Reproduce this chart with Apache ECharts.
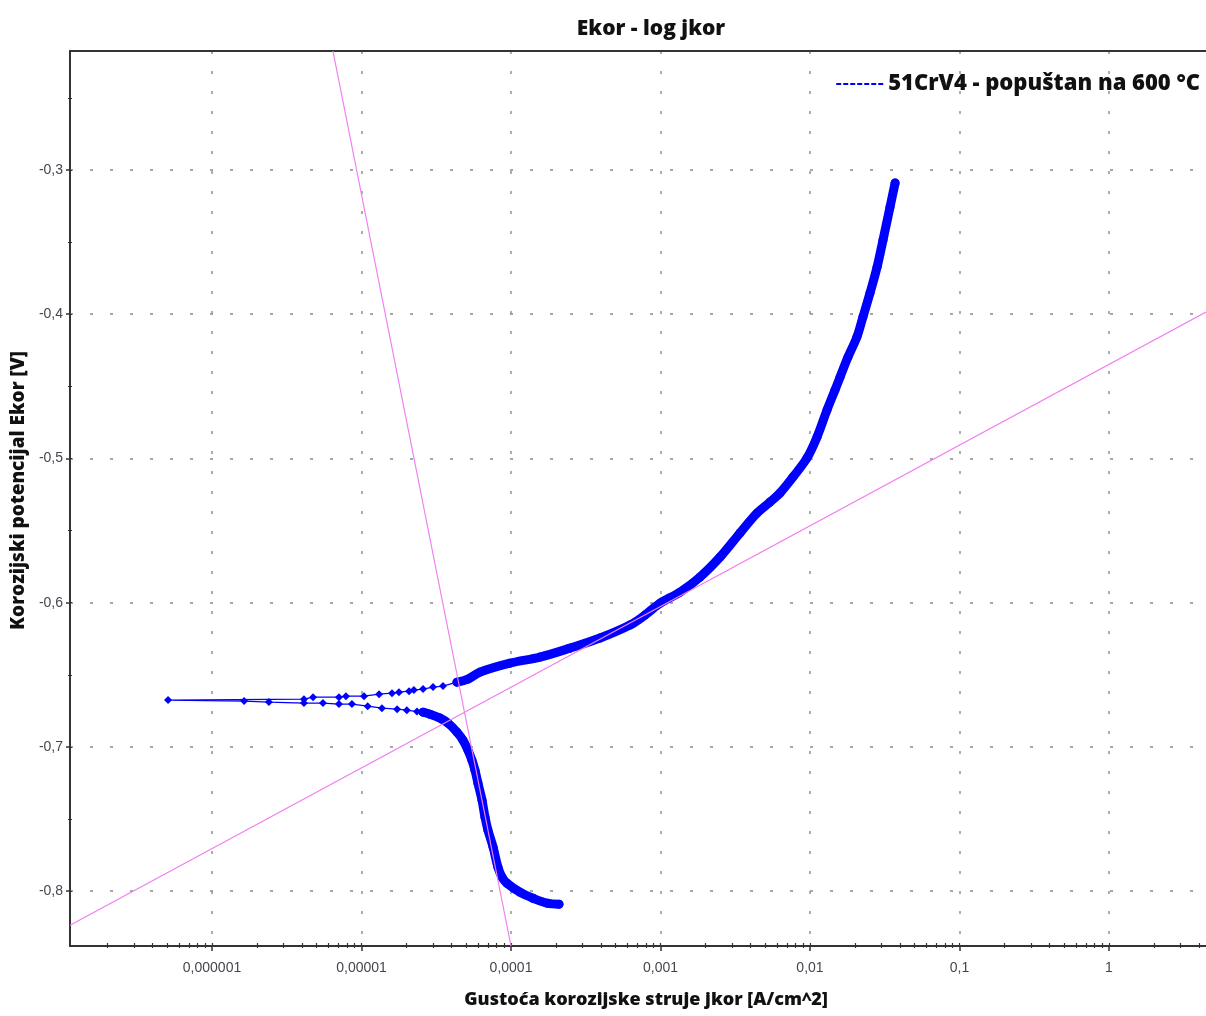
<!DOCTYPE html>
<html><head><meta charset="utf-8">
<script src="https://cdn.jsdelivr.net/npm/echarts@6/dist/echarts.min.js"></script>
<style>html,body{margin:0;padding:0;background:#fff}#c{width:1206px;height:1016px}</style>
</head><body><div id="c"></div>
<script>
// ---- data (current density A/cm^2, potential V) ----
const cathodicI = [2.094e-4,1.742e-4,1.403e-4,1.148e-4,9.40e-5,8.71e-5,8.18e-5,7.59e-5,7.01e-5,6.70e-5,6.40e-5,6.01e-5,5.74e-5,5.48e-5,5.15e-5,4.77e-5,4.35e-5,3.79e-5,3.35e-5,2.87e-5,2.58e-5];
const cathodicE = [-0.8090,-0.8083,-0.8049,-0.8007,-0.7945,-0.7903,-0.7834,-0.7695,-0.7577,-0.7487,-0.7369,-0.7251,-0.7161,-0.7092,-0.7022,-0.6953,-0.6897,-0.6835,-0.6800,-0.6773,-0.6759];
const ecorrI = [2.58e-5,2.35e-5,2.01e-5,1.73e-5,1.37e-5,1.10e-5,8.63e-6,7.06e-6,5.52e-6,4.12e-6,2.40e-6,1.64e-6,5.08e-7,4.12e-6,4.74e-6,7.06e-6,7.87e-6,1.04e-5,1.31e-5,1.60e-5,1.78e-5,2.08e-5,2.24e-5,2.58e-5,3.01e-5,3.51e-5,4.35e-5];
const ecorrE = [-0.6759,-0.6755,-0.6745,-0.6738,-0.6731,-0.6717,-0.6703,-0.6703,-0.6696,-0.6696,-0.6689,-0.6682,-0.6675,-0.6669,-0.6655,-0.6655,-0.6648,-0.6648,-0.6634,-0.6627,-0.6620,-0.6613,-0.6606,-0.6599,-0.6585,-0.6578,-0.6551];
const anodicI = [4.35e-5,5.15e-5,6.21e-5,9.84e-5,1.563e-4,2.48e-4,3.94e-4,6.25e-4,7.87e-4,9.93e-4,1.349e-3,1.837e-3,2.50e-3,3.40e-3,4.42e-3,5.40e-3,6.29e-3,7.69e-3,9.55e-3,1.114e-2,1.300e-2,1.469e-2,1.589e-2,1.795e-2,2.06e-2,2.26e-2,2.52e-2,2.81e-2,3.08e-2,3.43e-2,3.71e-2];
const anodicE = [-0.6551,-0.6530,-0.6481,-0.6419,-0.6377,-0.6315,-0.6245,-0.6155,-0.6086,-0.6003,-0.5927,-0.5822,-0.5684,-0.5517,-0.5379,-0.5302,-0.5240,-0.5129,-0.4997,-0.4852,-0.4664,-0.4526,-0.4436,-0.4297,-0.4158,-0.4019,-0.3853,-0.3673,-0.3485,-0.3257,-0.3090];
// Tafel fit lines (end points)
const tafelCathI = [1.0e-4, 6.44e-6];
const tafelCathE = [-0.838, -0.2175];
const tafelAnodI = [1.122e-7, 4.457];
const tafelAnodE = [-0.8236, -0.3985];
// axes
const xMin = 1.122e-7, xMax = 4.457;
const yMin = -0.838, yMax = -0.2175;
const xMajorTicks = [1e-6,1e-5,1e-4,1e-3,1e-2,1e-1,1];
const yMajorTicks = [-0.8,-0.7,-0.6,-0.5,-0.4,-0.3];
const yMinorTicks = [-0.75,-0.65,-0.55,-0.45,-0.35,-0.25];
const seriesName = '51CrV4 - popuštan na 600 °C';

const xMinorTicks = [];
[1e-7,1e-6,1e-5,1e-4,1e-3,1e-2,1e-1,1].forEach(d=>{for(let k=2;k<=9;k++){const v=d*k; if(v>xMin&&v<xMax) xMinorTicks.push(v);}});

const zip = (a,b)=>a.map((v,i)=>[v,b[i]]);
function fmtX(v){const l=Math.log10(v);const e=Math.round(l);if(Math.abs(l-e)>1e-6)return '';return e>=0?String(Math.round(v)):v.toFixed(-e).replace('.',',');}
function fmtY(v){const r=Math.round(v*10)/10;if(Math.abs(r-v)>1e-6)return '';return r.toFixed(1).replace('.',',');}

const labelStyle = {fontFamily:'Liberation Sans, Arial, sans-serif',fontSize:14,color:'#45454f'};
const hGrid = {show:true,lineStyle:{color:'#8c8c8c',width:1.5,type:[3,17]}};
const vGrid = {show:true,lineStyle:{color:'#7f9f8a',width:1.5,type:[3,17]}};
const axisLine = {show:true,lineStyle:{color:'#333',width:2}};
const boldFont = {fontFamily:'Open Sans',fontWeight:800,color:'#111'};

// dashed legend icon
let dashPath = 'path://';
for(let k=0;k<7;k++){dashPath += 'M'+(k*7)+',0h5v2h-5z';}

const chart = echarts.init(document.getElementById('c'),null,{renderer:'canvas'});
chart.setOption({
  animation:false,
  backgroundColor:'#fff',
  title:{text:'Ekor - log jkor',left:646,textAlign:'center',top:14,
    textStyle:{...boldFont,fontSize:21}},
  legend:{data:[{name:seriesName,icon:dashPath}],right:1,top:68,itemWidth:47,itemHeight:3,itemGap:6,
    textStyle:{...boldFont,fontSize:22}},
  grid:{left:70,right:0,top:51,bottom:70},
  xAxis:[
    {type:'log',min:xMin,max:xMax,position:'bottom',
     name:'Gustoća korozijske struje jkor [A/cm^2]',nameLocation:'middle',nameGap:45,
     nameTextStyle:{...boldFont,fontSize:18,padding:[0,0,0,16]},
     axisLine:axisLine,
     axisTick:{show:true,length:5,customValues:xMajorTicks,lineStyle:{color:'#333',width:1.5}},
     axisLabel:{show:true,margin:15,formatter:fmtX,customValues:xMajorTicks,...labelStyle},
     splitLine:vGrid,minorTick:{show:false}},
    {type:'log',min:xMin,max:xMax,position:'bottom',
     axisLine:{show:false},axisLabel:{show:false},splitLine:{show:false},
     axisTick:{show:true,inside:true,length:3,customValues:xMinorTicks.concat(xMajorTicks),lineStyle:{color:'#333',width:1.2}}},
    {type:'log',min:xMin,max:xMax,position:'bottom',
     axisLine:{show:false},axisLabel:{show:false},splitLine:{show:false},
     axisTick:{show:true,inside:false,length:2,customValues:xMinorTicks,lineStyle:{color:'#333',width:1.2}}},
    {type:'log',min:xMin,max:xMax,position:'top',
     axisLine:axisLine,axisLabel:{show:false},splitLine:{show:false},axisTick:{show:false}}
  ],
  yAxis:[
    {type:'value',min:yMin,max:yMax,position:'left',
     name:'Korozijski potencijal Ekor [V]',nameLocation:'middle',nameGap:39,nameRotate:90,
     nameTextStyle:{...boldFont,fontSize:19,padding:[0,0,0,16]},
     axisLine:axisLine,
     axisTick:{show:true,length:4,customValues:yMajorTicks,lineStyle:{color:'#333',width:1.5}},
     axisLabel:{show:true,margin:7,formatter:fmtY,customValues:yMajorTicks,...labelStyle},
     splitLine:hGrid},
    {type:'value',min:yMin,max:yMax,position:'left',
     axisLine:{show:false},axisLabel:{show:false},splitLine:{show:false},
     axisTick:{show:true,inside:true,length:2,customValues:yMinorTicks.concat(yMajorTicks),lineStyle:{color:'#333',width:1.2}}},
    {type:'value',min:yMin,max:yMax,position:'left',
     axisLine:{show:false},axisLabel:{show:false},splitLine:{show:false},
     axisTick:{show:true,inside:false,length:2,customValues:yMinorTicks,lineStyle:{color:'#333',width:1.2}}}
  ],
  series:[
    {name:seriesName,type:'line',data:zip(cathodicI,cathodicE),showAllSymbol:true,smooth:0.35,
     symbol:'circle',symbolSize:9,lineStyle:{color:'#0000ff',width:9,join:'round',cap:'round'},itemStyle:{color:'#0000ff'},z:3},
    {name:seriesName,type:'line',data:zip(ecorrI,ecorrE),showAllSymbol:true,
     symbol:'diamond',symbolSize:8,lineStyle:{color:'#0000ff',width:1.3},itemStyle:{color:'#0000ff'},z:3},
    {name:seriesName,type:'line',data:zip(anodicI,anodicE),showAllSymbol:true,smooth:0.35,
     symbol:'circle',symbolSize:9,lineStyle:{color:'#0000ff',width:9,join:'round',cap:'round'},itemStyle:{color:'#0000ff'},z:3},
    {name:'Tafel k',type:'line',data:zip(tafelCathI,tafelCathE),symbol:'none',
     lineStyle:{color:'#f07ff0',width:1.2},z:4,silent:true},
    {name:'Tafel a',type:'line',data:zip(tafelAnodI,tafelAnodE),symbol:'none',
     lineStyle:{color:'#f07ff0',width:1.2},z:4,silent:true}
  ]
});
</script>
</body></html>
